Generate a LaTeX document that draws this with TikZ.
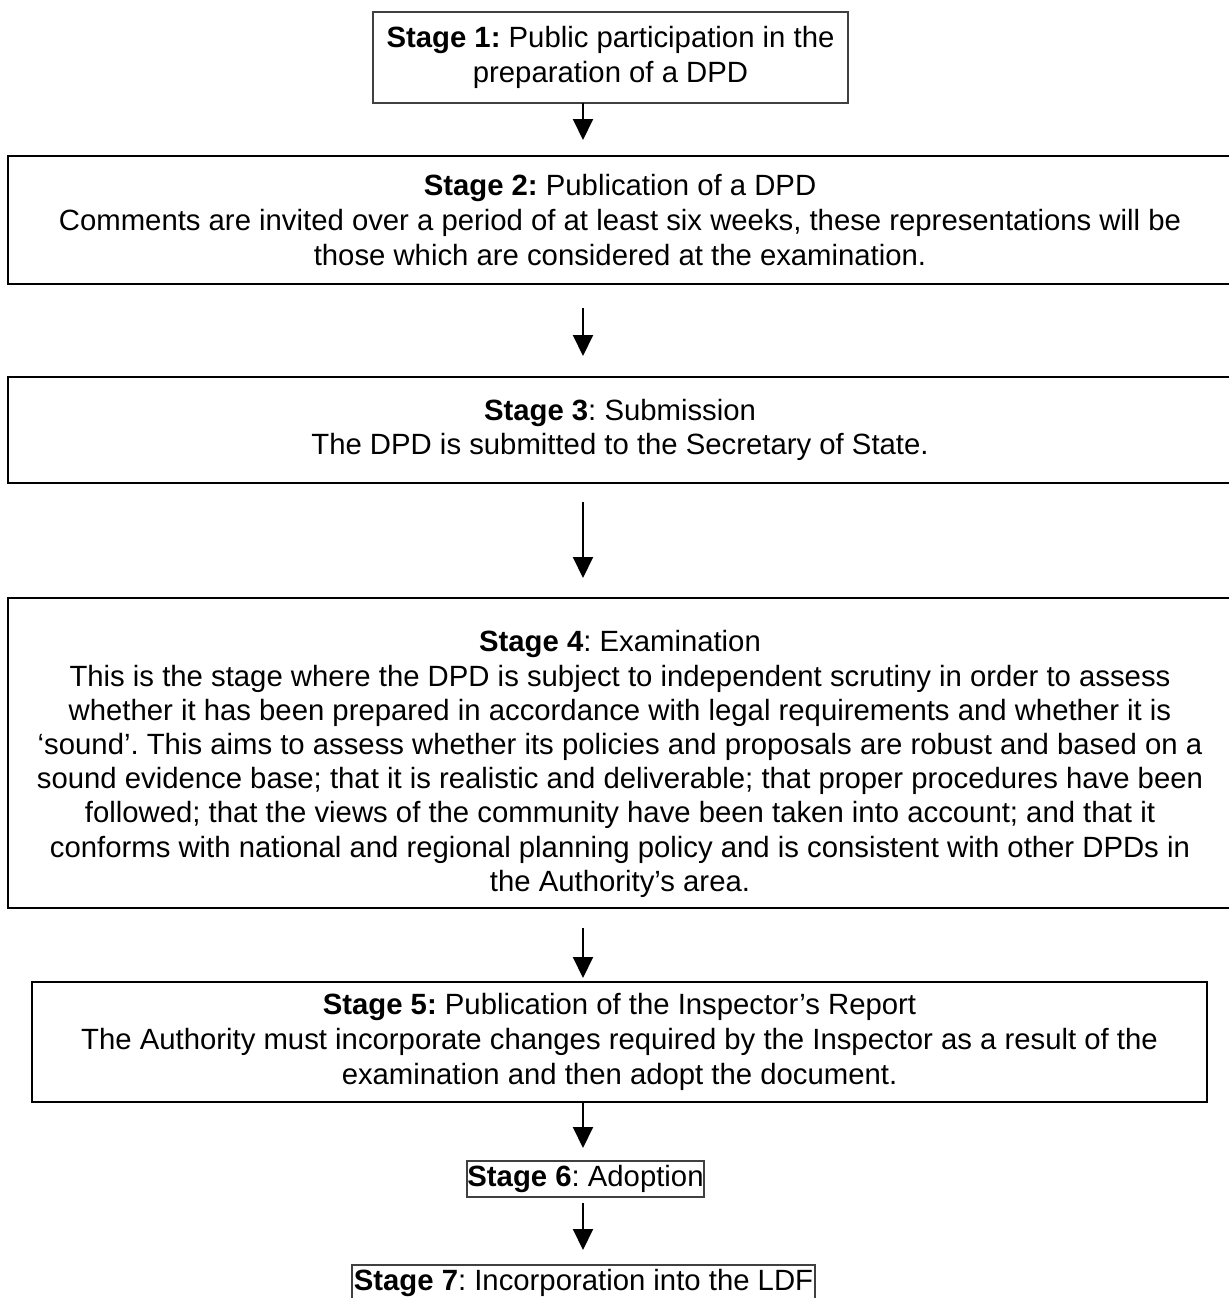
\documentclass[tikz,border=0pt]{standalone}
\usepackage{fontspec}
\setmainfont{Liberation Sans}
\usetikzlibrary{arrows.meta}
\begin{document}
\frenchspacing
\begin{tikzpicture}[x=1bp,y=-1bp,
  txt/.style={font=\frenchspacing\fontsize{29.3bp}{34.8bp}\selectfont, align=center, inner sep=0pt},
  thinbox/.style={txt, draw=black!75, line width=1.2bp, rectangle},
  thickbox/.style={txt, draw=black, line width=2.6bp, rectangle},
  arr/.style={line width=2bp, -{Triangle[width=20bp,length=21bp]}}]
\useasboundingbox[fill=white] (0,0) rectangle (1229,1298);

\node[thinbox, minimum width=475bp, minimum height=91bp] (b1) at (610.5,57.5)
  {\textbf{Stage 1:} Public participation in the\\ preparation of a DPD};

\node[thickbox, minimum width=1224bp, minimum height=128bp] (b2) at (620,220)
  {\textbf{Stage 2:} Publication of a DPD\\
   Comments are invited over a period of at least six weeks, these representations will be\\
   those which are considered at the examination.};

\node[thickbox, minimum width=1224bp, minimum height=106bp] (b3) at (620,430)
  {\textbf{Stage 3}: Submission\\
   The DPD is submitted to the Secretary of State.};

\node[thickbox, minimum width=1224bp, minimum height=310bp] (b4) at (620,753) {};
\node[txt, font=\frenchspacing\fontsize{29.3bp}{34.2bp}\selectfont] (b4t) at (620,764)
  {\textbf{Stage 4}: Examination\\
   This is the stage where the DPD is subject to independent scrutiny in order to assess\\
   whether it has been prepared in accordance with legal requirements and whether it is\\
   ‘sound’. This aims to assess whether its policies and proposals are robust and based on a\\
   sound evidence base; that it is realistic and deliverable; that proper procedures have been\\
   followed; that the views of the community have been taken into account; and that it\\
   conforms with national and regional planning policy and is consistent with other DPDs in\\
   the Authority’s area.};

\node[thickbox, minimum width=1175bp, minimum height=120bp] (b5) at (619.5,1042)
  {\textbf{Stage 5:} Publication of the Inspector’s Report\\
   The Authority must incorporate changes required by the Inspector as a result of the\\
   examination and then adopt the document.};

\node[thinbox, minimum width=237bp, minimum height=36bp] (b6) at (585.5,1179)
  {\textbf{Stage 6}: Adoption};

\node[thinbox, minimum width=463bp, minimum height=36bp] (b7) at (583.5,1283)
  {\textbf{Stage 7}: Incorporation into the LDF};

\coordinate (a1s) at (583,103);  \coordinate (a1e) at (583,140);
\coordinate (a2s) at (583,308);  \coordinate (a2e) at (583,356);
\coordinate (a3s) at (583,502);  \coordinate (a3e) at (583,578);
\coordinate (a4s) at (583,928);  \coordinate (a4e) at (583,978);
\coordinate (a5s) at (583,1102); \coordinate (a5e) at (583,1148);
\coordinate (a6s) at (583,1203); \coordinate (a6e) at (583,1250);

\draw[arr] (a1s) -- (a1e);
\draw[arr] (a2s) -- (a2e);
\draw[arr] (a3s) -- (a3e);
\draw[arr] (a4s) -- (a4e);
\draw[arr] (a5s) -- (a5e);
\draw[arr] (a6s) -- (a6e);
\end{tikzpicture}
\end{document}
